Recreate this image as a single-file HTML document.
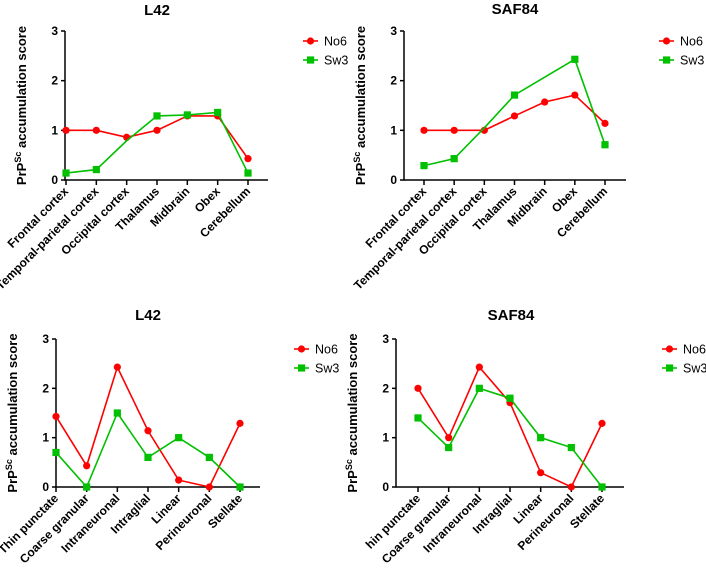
<!DOCTYPE html>
<html><head><meta charset="utf-8"><style>
body{margin:0;background:#fff;width:706px;height:564px;overflow:hidden}
svg{font-family:"Liberation Sans",Arial,sans-serif}
</style></head><body>
<svg id="chart" width="706" height="564" viewBox="0 0 706 564" xmlns="http://www.w3.org/2000/svg"></svg>
<script>
const regionCats = ["Frontal cortex","Temporal-parietal cortex","Occipital cortex","Thalamus","Midbrain","Obex","Cerebellum"];
const typeCatsL = ["Thin punctate","Coarse granular","Intraneuronal","Intraglial","Linear","Perineuronal","Stellate"];
const typeCatsR = ["hin punctate","Coarse granular","Intraneuronal","Intraglial","Linear","Perineuronal","Stellate"];
const yTicks = ["0","1","2","3"];
const seriesNames = ["No6","Sw3"];
const tlNo6 = [1,1,0.86,1,1.29,1.29,0.43];
const tlSw3 = [0.14,0.21,0.79,1.29,1.31,1.36,0.14];
const trNo6 = [1,1,1,1.29,1.57,1.71,1.14];
const trSw3 = [0.29,0.43,1.05,1.71,2.07,2.43,0.71];
const blNo6 = [1.43,0.43,2.43,1.14,0.14,0,1.29];
const blSw3 = [0.7,0,1.5,0.6,1,0.6,0];
const brNo6 = [2,1,2.43,1.71,0.29,0,1.29];
const brSw3 = [1.4,0.8,2,1.8,1,0.8,0];

const NS="http://www.w3.org/2000/svg";
const svg=document.getElementById('chart');
function mk(tag,attrs,parent){const e=document.createElementNS(NS,tag);for(const k in attrs)e.setAttribute(k,attrs[k]);(parent||svg).appendChild(e);return e;}

function panel(cfg){
  const g=mk('g',{});
  
  
  const yS=v=>cfg.y0+(cfg.y3-cfg.y0)*v/3;
  const step=(cfg.xLast-cfg.xFirst)/(cfg.cats.length-1);
  const xS=i=>cfg.xFirst+i*step;
  const t=mk('text',{x:cfg.titleX,y:cfg.titleY,'text-anchor':'middle','font-size':'15','font-weight':'bold',fill:'#000'},g);
  t.textContent=cfg.title;
  
  
  const ax=mk('path',{d:`M${cfg.ax} ${cfg.y3}V${cfg.y0}H${cfg.axEnd}`,stroke:'#000','stroke-width':'1.5',fill:'none'},g);
  
  
  yTicks.forEach((lab,i)=>{
    const y=yS(+lab);
    mk('line',{x1:cfg.ax-4,x2:cfg.ax,y1:y,y2:y,stroke:'#000','stroke-width':'1.5'},g);
    const tx=mk('text',{x:cfg.ax-7,y:y+4,'text-anchor':'end','font-size':'12','font-weight':'bold'},g);
    tx.textContent=lab;
    
    
  });
  const yt=mk('text',{transform:`translate(${cfg.ax-39},${(cfg.y0+cfg.y3)/2}) rotate(-90)`,'text-anchor':'middle','font-size':'13','font-weight':'bold'},g);
  yt.innerHTML='PrP<tspan dy="-5" font-size="9">Sc</tspan><tspan dy="5"> accumulation score</tspan>';
  
  
  cfg.cats.forEach((c,i)=>{
    const x=xS(i);
    mk('line',{x1:x,x2:x,y1:cfg.y0,y2:cfg.y0+5,stroke:'#000','stroke-width':'1.5'},g);
    const tx=mk('text',{transform:`translate(${x+3},${cfg.y0+12}) rotate(-45)`,'text-anchor':'end','font-size':'12','font-weight':'bold'},g);
    tx.textContent=c;
    
    
  });
  const series=[[cfg.s1,'#ff0000','circle',cfg.h1||[]],[cfg.s2,'#00c000','square',cfg.h2||[]]];
  series.forEach(([vals,col,shape,hid],si)=>{
    const pts=vals.map((v,i)=>`${xS(i)},${yS(v)}`).join(' ');
    const pl=mk('polyline',{points:pts,fill:'none',stroke:col,'stroke-width':'1.6'},g);
    
    
    vals.forEach((v,i)=>{
      let m;
      if(shape==='circle') m=mk('circle',{cx:xS(i),cy:yS(v),r:3.6,fill:col},g);
      else m=mk('rect',{x:xS(i)-3.6,y:yS(v)-3.6,width:7.2,height:7.2,fill:col},g);
      if(hid.includes(i)) m.setAttribute('opacity','0');
      
      
    });
    const ly=cfg.legY+si*19;
    const lg=mk('g',{},g);
    
    
    mk('line',{x1:cfg.legX,x2:cfg.legX+15,y1:ly,y2:ly,stroke:col,'stroke-width':'1.6'},lg);
    if(shape==='circle') mk('circle',{cx:cfg.legX+7.5,cy:ly,r:3.6,fill:col},lg);
    else mk('rect',{x:cfg.legX+4,y:ly-3.6,width:7.2,height:7.2,fill:col},lg);
    const lt=mk('text',{x:cfg.legX+21,y:ly+4.5,'font-size':'12.5'},lg);
    lt.textContent=seriesNames[si];
  });
}
panel({name:'panel-l42-region',title:'L42',titleX:157,titleY:15,ax:65,axEnd:268,y0:180,y3:31,xFirst:66,xLast:248,cats:regionCats,s1:tlNo6,s2:tlSw3,h2:[2],legX:303,legY:41});
panel({name:'panel-saf84-region',title:'SAF84',titleX:515,titleY:14,ax:404,axEnd:626,y0:180,y3:31,xFirst:424,xLast:605,cats:regionCats,s1:trNo6,s2:trSw3,h2:[2,4],legX:659,legY:41});
panel({name:'panel-l42-type',title:'L42',titleX:148,titleY:320,ax:56,axEnd:260,y0:487,y3:339,xFirst:56,xLast:240,cats:typeCatsL,s1:blNo6,s2:blSw3,legX:294,legY:349});
panel({name:'panel-saf84-type',title:'SAF84',titleX:511,titleY:320,ax:396,axEnd:624,y0:487,y3:339,xFirst:418,xLast:602,cats:typeCatsR,s1:brNo6,s2:brSw3,legX:662,legY:349});
</script>
</body></html>
